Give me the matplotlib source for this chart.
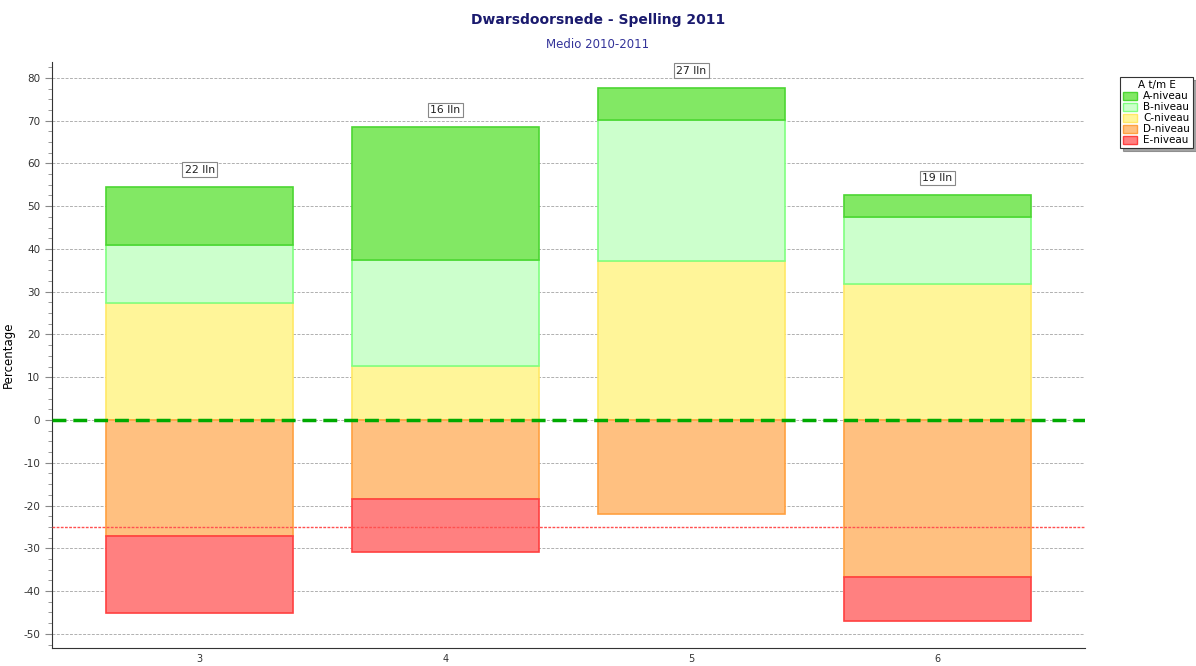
import matplotlib
matplotlib.use("Agg")
import matplotlib.pyplot as plt
from matplotlib.patches import Patch
from matplotlib.ticker import MultipleLocator

plt.rcParams["axes.unicode_minus"] = False

groups = [3, 4, 5, 6]
a_level = [13.6, 31.1, 7.5, 5.1]
b_level = [13.5, 24.8, 33.0, 15.7]
c_level = [27.4, 12.6, 37.2, 31.8]
d_level = [-27.1, -18.5, -22.0, -36.7]
e_level = [-18.0, -12.4, 0.0, -10.3]
counts = ["22 lln", "16 lln", "27 lln", "19 lln"]
series_names = ["A-niveau", "B-niveau", "C-niveau", "D-niveau", "E-niveau"]
fills = ["#82e864", "#ccffcc", "#fff599", "#ffc080", "#ff8080"]
edges = ["#4cd632", "#80ff80", "#ffe866", "#ffa040", "#ff4040"]

fig = plt.figure(figsize=(11.96, 6.66), dpi=100)
ax = fig.add_axes([52/1196, 1-648/666, (1085-52)/1196, (648-62)/666])

w = 0.76
bottom = [0.0]*4
for vals, fc, ec in [(c_level, fills[2], edges[2]), (b_level, fills[1], edges[1]), (a_level, fills[0], edges[0])]:
    ax.bar(groups, vals, width=w, bottom=bottom, color=fc, edgecolor=ec, linewidth=1.2, zorder=3)
    bottom = [b + v for b, v in zip(bottom, vals)]
tops = bottom
nb = [0.0]*4
for vals, fc, ec in [(d_level, fills[3], edges[3]), (e_level, fills[4], edges[4])]:
    gs = [g for g, v in zip(groups, vals) if v != 0]
    vs = [v for v in vals if v != 0]
    bs = [b for b, v in zip(nb, vals) if v != 0]
    ax.bar(gs, vs, width=w, bottom=bs, color=fc, edgecolor=ec, linewidth=1.2, zorder=3)
    nb = [b + v for b, v in zip(nb, vals)]

for g, t, c in zip(groups, tops, counts):
    ax.text(g, t + 4, c, ha="center", va="center", fontsize=7.8, color="#222222", zorder=5,
            bbox=dict(boxstyle="square,pad=0.22", fc="white", ec="#888888", lw=0.8))

ax.axhline(0, color="#00aa00", lw=2.5, ls=(0, (4, 2)), zorder=4)
ax.axhline(-25, color="#ff5050", lw=1.0, ls=(0, (2, 1)), zorder=4)

ax.set_xlim(2.4, 6.6)
ax.set_ylim(-53.3, 83.7)
ax.set_xticks(groups)
ax.set_xticklabels([str(g) for g in groups], fontsize=7, color="#333333")
ax.yaxis.set_major_locator(MultipleLocator(10))
ax.yaxis.set_minor_locator(MultipleLocator(2.5))
ax.tick_params(axis="y", labelsize=7.5, labelcolor="#333333", length=5, color="#888888")
ax.tick_params(axis="y", which="minor", length=3, color="#888888")
ax.tick_params(axis="x", length=0, pad=4)
ax.grid(axis="y", which="major", color="#b0b0b0", ls=(0, (3, 1.5)), lw=0.7, zorder=0)
ax.set_axisbelow(True)
for s in ["top", "right"]:
    ax.spines[s].set_visible(False)
for s in ["left", "bottom"]:
    ax.spines[s].set_color("#333333")
ax.set_ylabel("Percentage", fontsize=8.5)
ax.yaxis.set_label_coords(-0.036, 0.5)

fig.text(0.5, 1-20/666, "Dwarsdoorsnede - Spelling 2011", ha="center", va="center",
         fontsize=10, fontweight="bold", color="#1a1a6e")
fig.text(0.5, 1-45/666, "Medio 2010-2011", ha="center", va="center", fontsize=8.5, color="#333399")

handles = [Patch(facecolor=f, edgecolor=e, label=n) for f, e, n in zip(fills, edges, series_names)]
leg = fig.legend(handles=handles, loc="upper left", bbox_to_anchor=(1120/1196, 1-77/666),
                 title="A t/m E", fontsize=7.5, title_fontsize=7.5, frameon=True, fancybox=False,
                 shadow=True, borderpad=0.3, labelspacing=0.1, handlelength=1.3, handleheight=0.8,
                 handletextpad=0.6, borderaxespad=0)
leg.get_frame().set_edgecolor("#333333")
leg.get_frame().set_linewidth(0.8)

fig.savefig("out.png", dpi=100)
